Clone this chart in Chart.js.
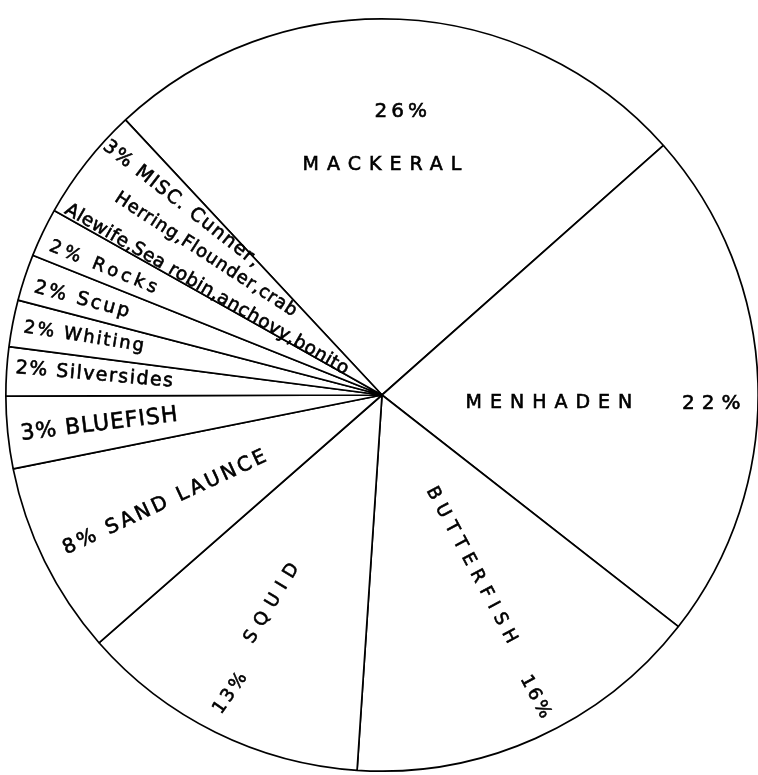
<!DOCTYPE html>
<html>
<head>
<meta charset="utf-8">
<script src="https://cdn.jsdelivr.net/npm/chart.js@4"></script>
<style>
  html, body { margin: 0; padding: 0; background: #fff; overflow: hidden; }
  #wrap { width: 760px; height: 775px; position: relative; }
</style>
</head>
<body>
<div id="wrap"><canvas id="pie"></canvas></div>
<script>
// slices, clockwise starting with mackerel
const species = ['Mackerel', 'Menhaden', 'Butterfish', 'Squid', 'Sand launce', 'Bluefish',
    'Silversides', 'Whiting', 'Scup', 'Rocks', 'Misc.'];

const shares = [25.4, 22.1, 15.5, 12.5, 8.3, 3.1, 2.1, 2.0, 2.0, 2.1, 4.9];

// printed percentage on each slice
const printedPct = ['26%', '22%', '16%', '13%', '8%', '3%', '2%', '2%', '2%', '2%', '3%'];

// texts written in the slices
const labelTexts = [
    '26%', 'MACKERAL',
    'MENHADEN', '22%',
    'BUTTERFISH', '16%',
    'SQUID', '13%',
    '8% SAND LAUNCE',
    '3% BLUEFISH',
    '2% Silversides',
    '2% Whiting',
    '2% Scup',
    '2% Rocks',
    '3% MISC. Cunner,',
    'Herring,Flounder,crab',
    'Alewife,Sea robin,anchovy,bonito'
];

// where each text goes: angle clockwise from top, distance as part of radius,
// text rotation, font size, letter spacing
const labelLayout = [
    [4.2, 0.755, 0, 20, 4],
    [1.0, 0.612, 0, 19, 8],
    [92.7, 0.455, 0, 19, 8],
    [91.6, 0.885, 0, 20, 7],
    [152.3, 0.52, 62, 18, 7],
    [153.1, 0.904, 62, 18, 3],
    [207.8, 0.616, -59, 18, 8],
    [206.9, 0.886, -55, 18, 3],
    [243.6, 0.641, -25, 20, 3],
    [264.0, 0.755, -7, 22, 1],
    [274.0, 0.765, 5, 19, 1.5],
    [281.0, 0.805, 9, 18, 2],
    [287.6, 0.834, 15, 19, 2.5],
    [294.6, 0.81, 22, 18, 4],
    [313.6, 0.735, 38, 19, 1.5],
    [308.5, 0.598, 33, 18, 0.8],
    [301.0, 0.543, 30, 18.5, 0.5]
];

const sliceText = {
    id: 'sliceText',
    afterDatasetsDraw(chart) {
        const arc = chart.getDatasetMeta(0).data[0];
        const cx = arc.x, cy = arc.y, R = arc.outerRadius;
        const ctx = chart.ctx;
        ctx.save();
        ctx.fillStyle = '#000';
        ctx.strokeStyle = '#000';
        ctx.lineWidth = 0.6;
        ctx.textAlign = 'center';
        ctx.textBaseline = 'middle';
        labelTexts.forEach(function (txt, i) {
            const l = labelLayout[i];
            const a = l[0] * Math.PI / 180;
            const x = cx + Math.sin(a) * l[1] * R;
            const y = cy - Math.cos(a) * l[1] * R;
            ctx.save();
            ctx.translate(x, y);
            ctx.rotate(l[2] * Math.PI / 180);
            ctx.font = l[3] + 'px "DejaVu Sans"';
            ctx.letterSpacing = l[4] + 'px';
            ctx.fillText(txt, 0, 0);
            ctx.strokeText(txt, 0, 0);
            ctx.restore();
        });
        ctx.restore();
    }
};

const chart = new Chart(document.getElementById('pie'), {
    type: 'pie',
    data: {
        labels: species.map(function (s, i) { return s + ' ' + printedPct[i]; }),
        datasets: [{
            data: shares,
            backgroundColor: '#ffffff',
            borderColor: '#000000',
            borderWidth: 1.7
        }]
    },
    options: {
        responsive: true,
        maintainAspectRatio: false,
        animation: false,
        rotation: 317,
        layout: {
            padding: { left: 5, right: 1, top: 18, bottom: 3 }
        },
        plugins: {
            legend: { display: false },
            tooltip: { enabled: false }
        }
    },
    plugins: [sliceText]
});
</script>
</body>
</html>
